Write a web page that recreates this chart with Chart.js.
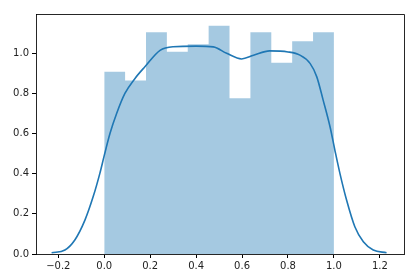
<!DOCTYPE html>
<html>
<head>
<meta charset="utf-8">
<script src="https://cdn.jsdelivr.net/npm/chart.js@4/dist/chart.umd.min.js"></script>
<style>
  html, body { margin: 0; padding: 0; background: #fff; }
  canvas { display: block; }
</style>
</head>
<body>
<canvas id="chart" width="416" height="279"></canvas>
<script>
// histogram: 11 bins between 0 and 1
const binEdges = [0, 1/11, 2/11, 3/11, 4/11, 5/11, 6/11, 7/11, 8/11, 9/11, 10/11, 1];
const binHeights = [0.908, 0.864, 1.105, 1.008, 1.045, 1.137, 0.776, 1.105, 0.953, 1.06, 1.105];

// kde curve
const kdeX = [-0.229, -0.171, -0.128, -0.084, -0.048, -0.019, 0.0, 0.025, 0.054, 0.09, 0.134, 0.177, 0.243, 0.3,
              0.4, 0.475, 0.533, 0.598, 0.65, 0.72, 0.8, 0.852, 0.896, 0.925, 0.953, 0.983, 1.004, 1.026, 1.055,
              1.091, 1.128, 1.171, 1.229];
const kdeY = [0.006, 0.02, 0.07, 0.169, 0.286, 0.402, 0.49, 0.6, 0.7, 0.8, 0.875, 0.933, 1.015, 1.033,
              1.036, 1.032, 1.0, 0.972, 0.99, 1.012, 1.007, 0.991, 0.95, 0.884, 0.767, 0.634, 0.518, 0.402, 0.269,
              0.136, 0.061, 0.02, 0.006];

const xTicks = [-0.2, 0.0, 0.2, 0.4, 0.6, 0.8, 1.0, 1.2];
const yTicks = [0.0, 0.2, 0.4, 0.6, 0.8, 1.0];

var histPoints = binEdges.map(function(e, i) {
    return { x: e, y: binHeights[Math.min(i, binHeights.length - 1)] };
});
var kdePoints = kdeX.map(function(x, i) { return { x: x, y: kdeY[i] }; });

function fmt(v) {
    var s = v.toFixed(1);
    return s.charAt(0) === '-' ? '\u2212' + s.slice(1) : s;
}

// top / right spines
const frame = {
    id: 'frame',
    afterDraw: function(chart) {
        var a = chart.chartArea, ctx = chart.ctx;
        ctx.save();
        ctx.strokeStyle = 'rgba(0,0,0,0.85)';
        ctx.lineWidth = 1;
        ctx.beginPath();
        ctx.moveTo(a.left, a.top + 0.5);
        ctx.lineTo(a.right + 0.5, a.top + 0.5);
        ctx.lineTo(a.right + 0.5, a.bottom);
        ctx.stroke();
        ctx.restore();
    }
};

var ctx = document.getElementById('chart').getContext('2d');
new Chart(ctx, {
    type: 'line',
    data: {
        datasets: [{
                label: 'kde',
                data: kdePoints,
                borderColor: '#1f77b4',
                borderWidth: 1.6,
                pointRadius: 0,
                cubicInterpolationMode: 'monotone',
                fill: false,
                order: 0
            },
            {
                label: 'hist',
                data: histPoints,
                stepped: 'before',
                borderWidth: 0,
                borderColor: 'rgba(0,0,0,0)',
                backgroundColor: 'rgba(31,119,180,0.4)',
                pointRadius: 0,
                fill: 'origin',
                order: 1
            }
        ]
    },
    options: {
        responsive: false,
        animation: false,
        layout: { padding: { top: 14, right: 12, left: 0, bottom: 0 } },
        plugins: { legend: { display: false }, tooltip: { enabled: false } },
        scales: {
            x: {
                type: 'linear',
                min: -0.297,
                max: 1.305,
                afterBuildTicks: function(scale) {
                    scale.ticks = xTicks.map(function(v) { return { value: v }; });
                },
                afterFit: function(scale) { scale.height = 25; },
                grid: { drawOnChartArea: false, drawTicks: true, tickLength: 4, color: '#000' },
                border: { display: true, color: 'rgba(0,0,0,0.85)', width: 1 },
                ticks: {
                    padding: 2,
                    maxRotation: 0,
                    autoSkip: false,
                    color: '#222',
                    font: { family: 'DejaVu Sans', size: 10 },
                    callback: function(v) { return fmt(v); }
                }
            },
            y: {
                type: 'linear',
                min: 0,
                max: 1.196,
                afterBuildTicks: function(scale) {
                    scale.ticks = yTicks.map(function(v) { return { value: v }; });
                },
                afterFit: function(scale) { scale.width = 36; },
                grid: { drawOnChartArea: false, drawTicks: true, tickLength: 4, color: '#000' },
                border: { display: true, color: 'rgba(0,0,0,0.85)', width: 1 },
                ticks: {
                    padding: 3,
                    color: '#222',
                    font: { family: 'DejaVu Sans', size: 10 },
                    callback: function(v) { return fmt(v); }
                }
            }
        }
    },
    plugins: [frame]
});
</script>
</body>
</html>
